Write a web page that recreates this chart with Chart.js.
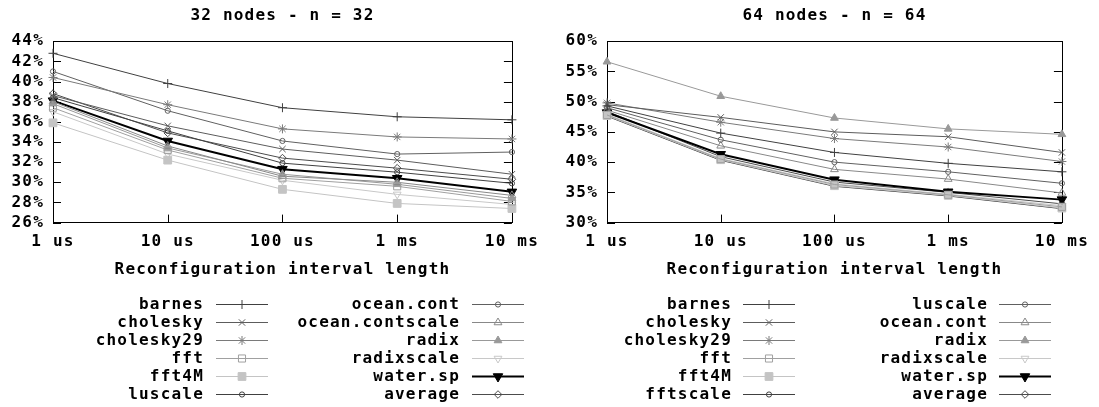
<!DOCTYPE html>
<html><head><meta charset="utf-8">
<script src="https://cdn.jsdelivr.net/npm/chart.js@4.4.1/dist/chart.umd.min.js"></script>
<style>
html,body{margin:0;padding:0;background:#fff;width:1099px;height:407px;overflow:hidden}
canvas{position:absolute;top:0}
#c1{left:0}
#c2{left:549px}
</style></head><body>
<canvas id="c1" width="549" height="407"></canvas>
<canvas id="c2" width="550" height="407"></canvas>
<script>
// ---------- data ----------
const intervals = ["1 us", "10 us", "100 us", "1 ms", "10 ms"];

const names32 = ["barnes","cholesky","cholesky29","fft","fft4M","luscale","ocean.cont","ocean.contscale","radix","radixscale","water.sp","average"];
const barnes32          = [42.8, 39.8, 37.4, 36.5, 36.2];
const cholesky32        = [38.6, 35.6, 33.3, 32.2, 30.8];
const cholesky29_32     = [40.4, 37.7, 35.3, 34.5, 34.3];
const fft32             = [37.4, 33.2, 30.4, 29.6, 28.1];
const fft4M32           = [35.9, 32.2, 29.3, 27.9, 27.4];
const luscale32         = [38.4, 35.1, 31.9, 31.0, 29.9];
const oceancont32       = [41.0, 37.1, 34.1, 32.8, 33.0];
const oceancontscale32  = [38.0, 33.6, 30.6, 30.0, 28.7];
const radix32           = [37.8, 33.4, 30.8, 29.8, 28.4];
const radixscale32      = [37.0, 32.8, 30.2, 28.8, 27.8];
const watersp32         = [38.1, 34.1, 31.3, 30.4, 29.05];
const average32         = [38.8, 34.9, 32.4, 31.4, 30.3];
const series32 = [barnes32, cholesky32, cholesky29_32, fft32, fft4M32, luscale32, oceancont32, oceancontscale32, radix32, radixscale32, watersp32, average32];
const yTicks32 = [26, 28, 30, 32, 34, 36, 38, 40, 42, 44];

const names64 = ["barnes","cholesky","cholesky29","fft","fft4M","fftscale","luscale","ocean.cont","radix","radixscale","water.sp","average"];
const barnes64      = [49.3, 44.8, 41.6, 39.8, 38.4];
const cholesky64    = [49.5, 47.4, 45.0, 44.2, 41.6];
const cholesky29_64 = [49.8, 46.6, 43.9, 42.5, 40.1];
const fft64         = [47.8, 40.5, 36.3, 34.6, 32.6];
const fft4M64       = [47.7, 40.4, 36.1, 34.5, 32.4];
const fftscale64    = [47.6, 40.3, 36.0, 34.4, 32.3];
const luscale64     = [49.0, 43.7, 40.0, 38.4, 36.5];
const oceancont64   = [48.6, 42.7, 38.8, 37.2, 34.9];
const radix64       = [56.6, 50.9, 47.3, 45.5, 44.6];
const radixscale64  = [47.9, 40.6, 36.4, 34.7, 32.8];
const watersp64     = [48.2, 41.3, 37.1, 35.1, 33.8];
const average64     = [48.4, 40.9, 36.7, 35.0, 33.1];
const series64 = [barnes64, cholesky64, cholesky29_64, fft64, fft4M64, fftscale64, luscale64, oceancont64, radix64, radixscale64, watersp64, average64];
const yTicks64 = [30, 35, 40, 45, 50, 55, 60];

// ---------- styles (by series index, gnuplot-like) ----------
const styles = [
  {c:'#404040', p:'cross',    r:4.5, f:false},
  {c:'#5c5c5c', p:'crossRot', r:4.5, f:false},
  {c:'#7a7a7a', p:'star',     r:4.5, f:false},
  {c:'#a0a0a0', p:'rect',     r:5,   f:false},
  {c:'#c4c4c4', p:'rect',     r:5.5, f:true},
  {c:'#404040', p:'circle',   r:2.6, f:false},
  {c:'#606060', p:'circle',   r:2.6, f:false},
  {c:'#888888', p:'triangle', r:4.5, f:false},
  {c:'#999999', p:'triangle', r:4.5, f:true},
  {c:'#c8c8c8', p:'triangle', r:4.5, f:false, rot:180},
  {c:'#000000', p:'triangle', r:5.5, f:true,  rot:180, w:2},
  {c:'#4c4c4c', p:'rectRot',  r:3.8, f:false}
];

const FONT = {family:'"DejaVu Sans Mono", monospace', size:16, weight:'bold'};
const FONTSTR = 'bold 16px "DejaVu Sans Mono", monospace';
const LS = '1.2px';

const gframe = {
  id:'gframe',
  beforeUpdate(chart){ chart.ctx.letterSpacing = LS; },
  beforeLayout(chart){ chart.ctx.letterSpacing = LS; },
  beforeDraw(chart){ chart.ctx.letterSpacing = LS; },
  beforeDatasetsDraw(chart){
    const {ctx, chartArea:a, scales:{x, y}} = chart;
    ctx.save();
    ctx.strokeStyle = '#000'; ctx.lineWidth = 1;
    ctx.beginPath();
    y.ticks.forEach(t => {
      const py = Math.round(y.getPixelForValue(t.value)) + 0.5;
      ctx.moveTo(a.left, py); ctx.lineTo(a.left + 8, py);
      ctx.moveTo(a.right, py); ctx.lineTo(a.right - 8, py);
    });
    x.ticks.forEach((t, i) => {
      const px = Math.round(x.getPixelForTick(i)) + 0.5;
      ctx.moveTo(px, a.bottom); ctx.lineTo(px, a.bottom - 8);
    });
    ctx.stroke();
    ctx.strokeRect(Math.round(a.left) + 0.5, Math.round(a.top) + 0.5, Math.round(a.right - a.left), Math.round(a.bottom - a.top));
    ctx.restore();
  },
  afterDraw(chart, args, o){
    const ctx = chart.ctx;
    ctx.save();
    ctx.letterSpacing = LS;
    ctx.font = FONTSTR;
    ctx.textBaseline = 'middle';
    ctx.textAlign = 'right';
    chart.data.datasets.forEach((ds, i) => {
      const col = o.cols[Math.floor(i / 6)];
      const yy = Math.round(o.rowY + o.rowStep * (i % 6)) + 0.5;
      ctx.fillStyle = '#000';
      ctx.fillText(ds.label, col.labelRight + 1, yy);
      ctx.strokeStyle = ds.borderColor;
      ctx.lineWidth = ds.borderWidth;
      ctx.beginPath(); ctx.moveTo(col.x1, yy); ctx.lineTo(col.x2, yy); ctx.stroke();
      ctx.fillStyle = ds.pointBackgroundColor;
      ctx.strokeStyle = ds.borderColor;
      ctx.lineWidth = 1;
      Chart.helpers.drawPoint(ctx, {pointStyle: ds.pointStyle, radius: ds.pointRadius, rotation: ds.pointRotation, borderWidth: 1}, (col.x1 + col.x2) / 2, yy);
    });
    ctx.restore();
  }
};

function makeDatasets(names, series){
  return names.map((n, i) => {
    const s = styles[i];
    return {
      label: n, data: series[i],
      borderColor: s.c, borderWidth: s.w || 1,
      pointStyle: s.p, pointRadius: s.r, pointRotation: s.rot || 0,
      pointBorderWidth: 1, pointBorderColor: s.c,
      pointBackgroundColor: s.f ? s.c : 'rgba(0,0,0,0)',
      tension: 0, fill: false
    };
  });
}

function makeChart(id, title, names, series, yTicks, step, leftW, legendCfg){
  return new Chart(document.getElementById(id), {
    type: 'line',
    data: {labels: intervals, datasets: makeDatasets(names, series)},
    plugins: [gframe],
    options: {
      responsive: false, animation: false, devicePixelRatio: 1,
      layout: {padding: {left: 0, right: 34, top: 0, bottom: 128}},
      plugins: {
        legend: {display: false}, tooltip: {enabled: false},
        title: {display: true, text: title, color: '#000', font: FONT, fullSize: false, padding: {top: 6, bottom: 16}},
        gframe: legendCfg
      },
      scales: {
        x: {
          type: 'category', offset: false,
          grid: {display: false, drawTicks: false}, border: {display: false},
          ticks: {color: '#000', font: FONT, padding: 10, maxRotation: 0, autoSkip: false},
          title: {display: true, text: 'Reconfiguration interval length', color: '#000', font: FONT, padding: {top: -2, bottom: 0}}
        },
        y: {
          min: yTicks[0], max: yTicks[yTicks.length - 1],
          grid: {display: false, drawTicks: false}, border: {display: false},
          afterFit: s => { s.width = leftW; },
          afterBuildTicks: s => { s.ticks = yTicks.map(v => ({value: v})); },
          ticks: {color: '#000', font: FONT, padding: 9, autoSkip: false, stepSize: step, callback: v => v + '%'}
        }
      }
    }
  });
}

makeChart('c1', '32 nodes - n = 32', names32, series32, yTicks32, 2, 53,
  {cols: [{labelRight: 203, x1: 216, x2: 268}, {labelRight: 459, x1: 472, x2: 524}], rowY: 303.5, rowStep: 18.1});
makeChart('c2', '64 nodes - n = 64', names64, series64, yTicks64, 5, 58,
  {cols: [{labelRight: 182, x1: 194, x2: 246}, {labelRight: 438, x1: 450, x2: 502}], rowY: 303.5, rowStep: 18.1});
</script>
</body></html>
